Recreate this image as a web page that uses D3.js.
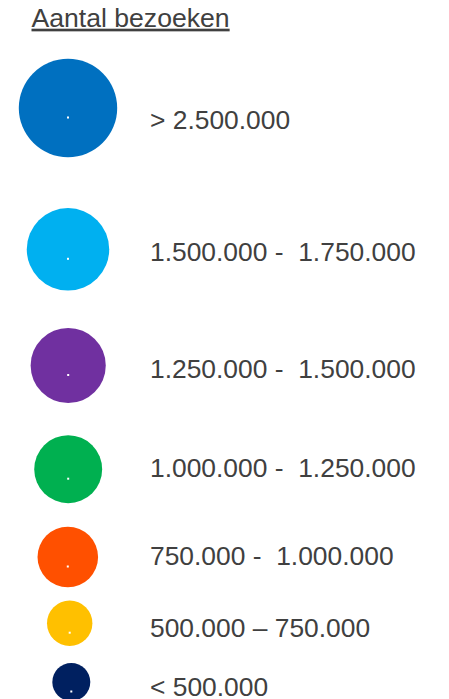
<!DOCTYPE html>
<html>
<head>
<meta charset="utf-8">
<script src="https://cdn.jsdelivr.net/npm/d3@7"></script>
<style>
  body { margin: 0; background: #fff; }
  text { font-family: "Liberation Sans", Arial, sans-serif; fill: #404040; }
</style>
</head>
<body>
<div id="chart"></div>
<script>

// Legend classes (number of visits)
const title = "Aantal bezoeken";
const labels = ["> 2.500.000", "1.500.000 -  1.750.000", "1.250.000 -  1.500.000",
                "1.000.000 -  1.250.000", "750.000 -  1.000.000", "500.000 \u2013 750.000", "< 500.000"];
const visits = [2350000, 1650000, 1370000, 1120000, 890000, 500000, 350000];
const colors = ["#0070C0", "#00B0F0", "#7030A0", "#00B050", "#FF5000", "#FFC000", "#002060"];

const width = 449, height = 699;

let svg = d3.select("#chart").append("svg")
            .attr("width", width)
            .attr("height", height);

// Circle area proportional to visits
let r = d3.scaleSqrt()
          .domain([0, 2500000])
          .range([0, 50.75]);

// Row layout
let circleY = d3.scaleOrdinal().domain(labels).range([108, 249.3, 365.5, 469.2, 557, 623.2, 682]);
let labelY = d3.scaleOrdinal().domain(labels).range([129.3, 260.7, 378.3, 476.7, 565, 636.7, 695.5]);
let circleX = d3.scaleOrdinal().domain(labels).range([68, 68, 68.2, 68.2, 67.8, 69.7, 71.3]);

let data = labels.map((d, i) => ({label: d, value: visits[i], color: colors[i]}));

svg.append("text")
    .attr("x", 31.5)
    .attr("y", 26.7)
    .style("font-size", "26.6px")
    .style("text-decoration", "underline")
    .text(title);

let rows = svg.selectAll(".row")
              .data(data)
              .enter().append("g")
              .attr("class", "row");

rows.append("circle")
    .attr("cx", d => circleX(d.label))
    .attr("cy", d => circleY(d.label))
    .attr("r", d => r(d.value))
    .attr("fill", d => d.color);

// small white dot inside each circle
rows.append("rect")
    .attr("x", d => circleX(d.label) - 1)
    .attr("y", d => circleY(d.label) + 8.5)
    .attr("width", 2)
    .attr("height", 2)
    .attr("fill", "#fff");

rows.append("text")
    .attr("x", 150)
    .attr("y", d => labelY(d.label))
    .style("font-size", "26.4px")
    .style("white-space", "pre")
    .text(d => d.label);

</script>
</body>
</html>
